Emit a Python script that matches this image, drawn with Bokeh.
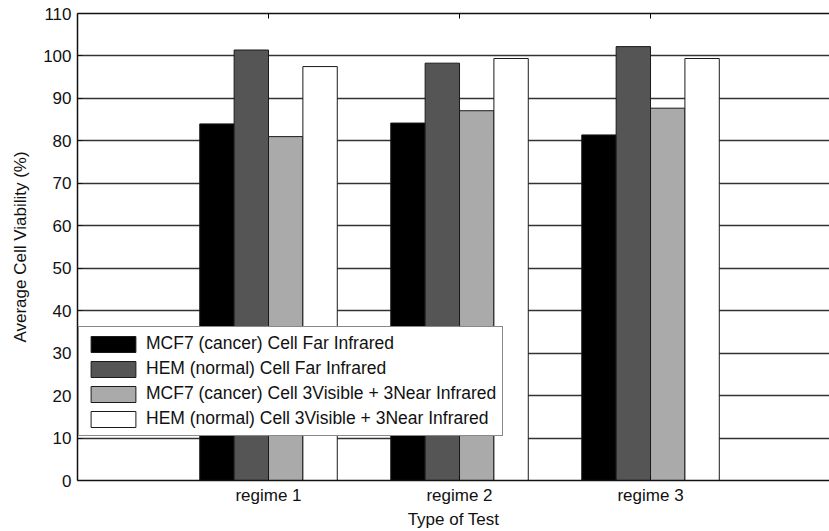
from bokeh.plotting import figure
from bokeh.models import LinearAxis, FixedTicker, Legend, LegendItem, Range1d, ColumnDataSource
from bokeh.transform import dodge
from bokeh.embed import file_html
from bokeh.resources import INLINE

# ---- data ----
regimes = ["regime 1", "regime 2", "regime 3"]
regime_pos = [1, 2, 3]
series_names = [
    "MCF7 (cancer) Cell Far Infrared",
    "HEM (normal) Cell Far Infrared",
    "MCF7 (cancer) Cell 3Visible + 3Near Infrared",
    "HEM (normal) Cell 3Visible + 3Near Infrared",
]
mcf7_far = [84.0, 84.2, 81.4]
hem_far = [101.4, 98.3, 102.2]
mcf7_vis_nir = [81.0, 87.1, 87.7]
hem_vis_nir = [97.5, 99.4, 99.4]
y_ticks = list(range(0, 111, 10))

series_values = [mcf7_far, hem_far, mcf7_vis_nir, hem_vis_nir]
colors = ["#000000", "#555555", "#aaaaaa", "#ffffff"]

FONT = "Liberation Sans"
FS = "17px"

p = figure(width=829, height=531, output_backend="svg", toolbar_location=None,
           x_range=Range1d(0, 3.937), y_range=Range1d(0, 110),
           min_border_left=77, min_border_right=0, min_border_top=13, min_border_bottom=0,
           x_axis_label="Type of Test", y_axis_label="Average Cell Viability (%)")
p.outline_line_color = None
p.background_fill_color = "white"

data = {"x": regime_pos}
for i, vals in enumerate(series_values):
    data["s%d" % i] = vals
src = ColumnDataSource(data)

bw = 0.18
items = []
for i, name in enumerate(series_names):
    off = (i - 1.5) * bw
    r = p.vbar(x=dodge("x", off), top="s%d" % i, width=bw, bottom=0, source=src,
               fill_color=colors[i], line_color="#1a1a1a", line_width=1)
    items.append(LegendItem(label=name, renderers=[r]))

# grid
p.xgrid.visible = False
p.ygrid.ticker = FixedTicker(ticks=y_ticks)
p.ygrid.grid_line_color = "#333333"
p.ygrid.grid_line_width = 1.5

# axes
for ax in [p.xaxis[0], p.yaxis[0]]:
    ax.major_tick_in = 5
    ax.major_tick_out = 0
    ax.minor_tick_line_color = None
    ax.axis_line_color = "#111111"
    ax.axis_line_width = 1.5
    ax.major_tick_line_color = "#111111"
    ax.major_label_text_font = FONT
    ax.major_label_text_font_size = FS
    ax.major_label_text_color = "#111111"
    ax.axis_label_text_font = FONT
    ax.axis_label_text_font_size = FS
    ax.axis_label_text_font_style = "normal"
    ax.axis_label_text_color = "#111111"

p.xaxis.ticker = FixedTicker(ticks=regime_pos)
p.xaxis.major_label_overrides = {k: v for k, v in zip(regime_pos, regimes)}
p.xaxis.major_label_standoff = 5
p.xaxis.axis_label_standoff = 2
p.yaxis.ticker = FixedTicker(ticks=y_ticks)
p.yaxis.major_label_standoff = 6
p.yaxis.axis_label_standoff = 10

top = LinearAxis(ticker=FixedTicker(ticks=regime_pos),
                 major_label_overrides={k: "" for k in regime_pos},
                 major_label_text_font_size="0px",
                 major_tick_in=5, major_tick_out=0, minor_tick_line_color=None,
                 axis_line_color="#111111", axis_line_width=1.5,
                 major_label_standoff=0)
p.add_layout(top, "above")

legend = Legend(items=items, location=(1, 44))
legend.border_line_color = "#111111"
legend.border_line_width = 1
legend.background_fill_color = "white"
legend.background_fill_alpha = 1
legend.label_text_font = FONT
legend.label_text_font_size = "17.5px"
legend.label_text_color = "#111111"
legend.glyph_width = 56
legend.glyph_height = 20
legend.label_height = 20
legend.spacing = 4
legend.padding = 6
legend.label_standoff = 5
legend.margin = 0
p.add_layout(legend)

open("out.html", "w").write(file_html(p, INLINE))
